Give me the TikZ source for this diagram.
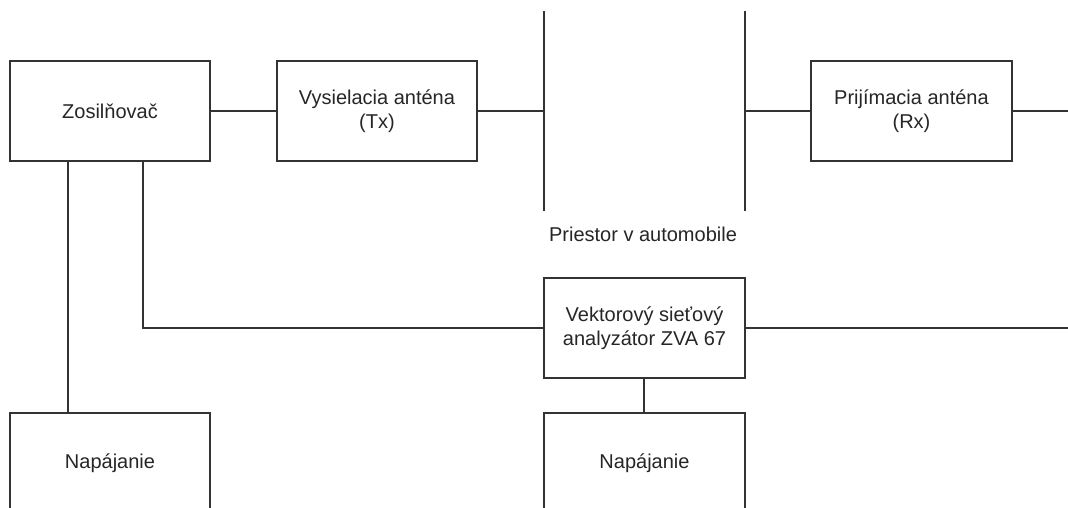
\documentclass[tikz,border=0pt]{standalone}
\usepackage{fontspec}
\setmainfont{Liberation Sans}
\begin{document}
\begin{tikzpicture}[x=1pt,y=-1pt,
  ln/.style={line width=1.7pt, draw=black!80},
  blk/.style={draw=black!80, line width=1.7pt, minimum width=200pt, minimum height=100pt,
    align=center, inner sep=0pt, text=black!85, font=\fontsize{20}{24}\selectfont},
  lbl/.style={text=black!85, inner sep=0pt, font=\fontsize{20}{24}\selectfont}]
\useasboundingbox (0,0) rectangle (1068,507);
\fill[white] (0,0) rectangle (1068,507);
\clip (0,0) rectangle (1068,507);
% blocks
\node[blk] (zos) at (110,111) {Zosilňovač};
\node[blk] (tx) at (377,111) {Vysielacia anténa\\(Tx)};
\node[blk, minimum width=201pt] (rx) at (911.5,111) {Prijímacia anténa\\(Rx)};
\node[blk, minimum width=201pt] (vna) at (644.5,328) {Vektorový sieťový\\analyzátor ZVA 67};
\node[blk] (nap1) at (110,463) {Napájanie};
\node[blk, minimum width=201pt] (nap2) at (644.5,463) {Napájanie};
\node[lbl] (pri) at (643,234) {Priestor v automobile};
% walls of the car space
\coordinate (w1t) at (544,11); \coordinate (w1b) at (544,211);
\coordinate (w2t) at (745,11); \coordinate (w2b) at (745,211);
\draw[ln] (w1t) -- (w1b);
\draw[ln] (w2t) -- (w2b);
% free ends at the right edge
\coordinate (e1) at (1068,111);
\coordinate (e2) at (1068,328);
% connectors
\draw[ln] (zos.east) -- (tx.west);
\draw[ln] (tx.east) -- (tx.east -| w1t);
\draw[ln] (rx.west) -- (rx.west -| w2t);
\draw[ln] (rx.east) -- (e1);
\draw[ln] (vna.east) -- (e2);
\draw[ln] ([xshift=-0.5pt]vna.south) -- ([xshift=-0.5pt]nap2.north);
\draw[ln] ([xshift=-42pt]zos.south) -- ([xshift=-42pt]nap1.north);
\draw[ln] ([xshift=33pt]zos.south) |- (vna.west);
\end{tikzpicture}
\end{document}
